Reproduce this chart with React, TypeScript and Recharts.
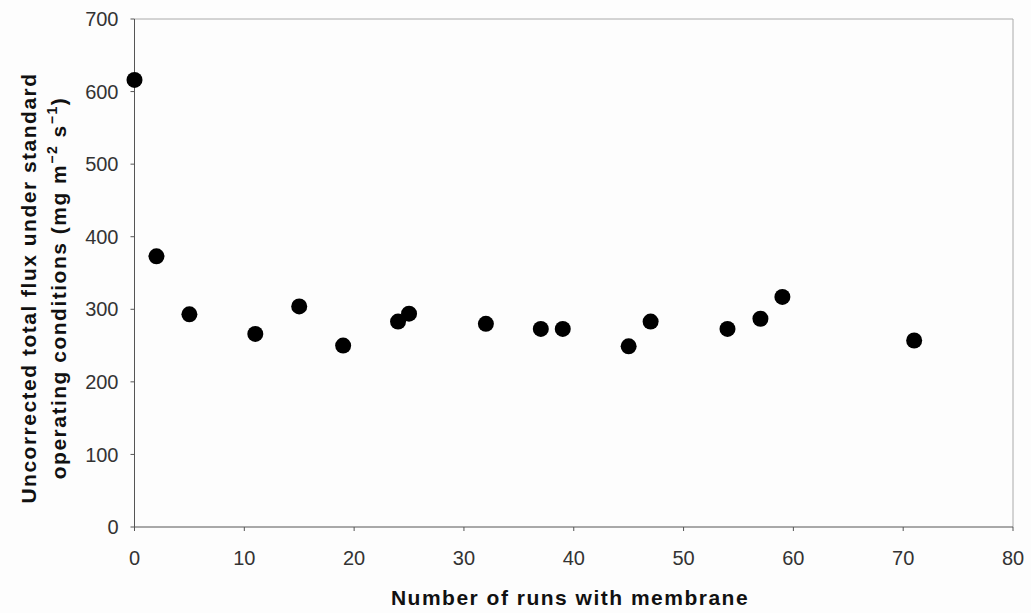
import { ScatterChart, Scatter, XAxis, YAxis, ReferenceLine } from "recharts";

// runs with membrane vs. uncorrected total flux
const runs = [0, 2, 5, 11, 15, 19, 24, 25, 32, 37, 39, 45, 47, 54, 57, 59, 71];
const flux = [616, 373, 293, 266, 304, 250, 283, 294, 280, 273, 273, 249, 283, 273, 287, 317, 257];

const xTicks = [0, 10, 20, 30, 40, 50, 60, 70, 80];
const yTicks = [0, 100, 200, 300, 400, 500, 600, 700];

const data = runs.map((r, i) => ({ runs: r, flux: flux[i] }));

const FONT = "'Liberation Sans', Arial, Helvetica, sans-serif";
const tickStyle = { fontSize: 20, fill: "#333", fontFamily: FONT };

const Dot = (props: any) => <circle cx={props.cx} cy={props.cy} r={8} fill="#000" />;

const Titles = () => (
  <g fontFamily={FONT} fontWeight="bold" fontSize={21} fill="#111" letterSpacing={1.5}>
    <text x={570} y={605} textAnchor="middle">
      Number of runs with membrane
    </text>
    <text transform="translate(36,288) rotate(-90)" textAnchor="middle">
      Uncorrected total flux under standard
    </text>
    <text transform="translate(66,288) rotate(-90)" textAnchor="middle">
      operating conditions (mg m
      <tspan dy={-9} fontSize={14}>−2</tspan>
      <tspan dy={9}> s</tspan>
      <tspan dy={-9} fontSize={14}>−1</tspan>
      <tspan dy={9}>)</tspan>
    </text>
  </g>
);

export default function App() {
  return (
    <div style={{ position: "absolute", left: 0, top: 0, background: "#fdfdfd" }}>
      <ScatterChart
        width={1031}
        height={613}
        margin={{ top: 19, right: 18, bottom: 0, left: 0 }}
      >
        <XAxis
          type="number"
          dataKey="runs"
          domain={[0, 80]}
          ticks={xTicks}
          height={86}
          tick={tickStyle}
          tickSize={4}
          tickMargin={20}
          stroke="#555"
        />
        <YAxis
          type="number"
          dataKey="flux"
          domain={[0, 700]}
          ticks={yTicks}
          width={134.5}
          tick={tickStyle}
          tickSize={4}
          tickMargin={12}
          stroke="#555"
        />
        <ReferenceLine y={700} stroke="#aaa" strokeWidth={1} />
        <ReferenceLine x={80} stroke="#aaa" strokeWidth={1} />
        <Scatter data={data} shape={Dot} isAnimationActive={false} />
        <Titles />
      </ScatterChart>
    </div>
  );
}
